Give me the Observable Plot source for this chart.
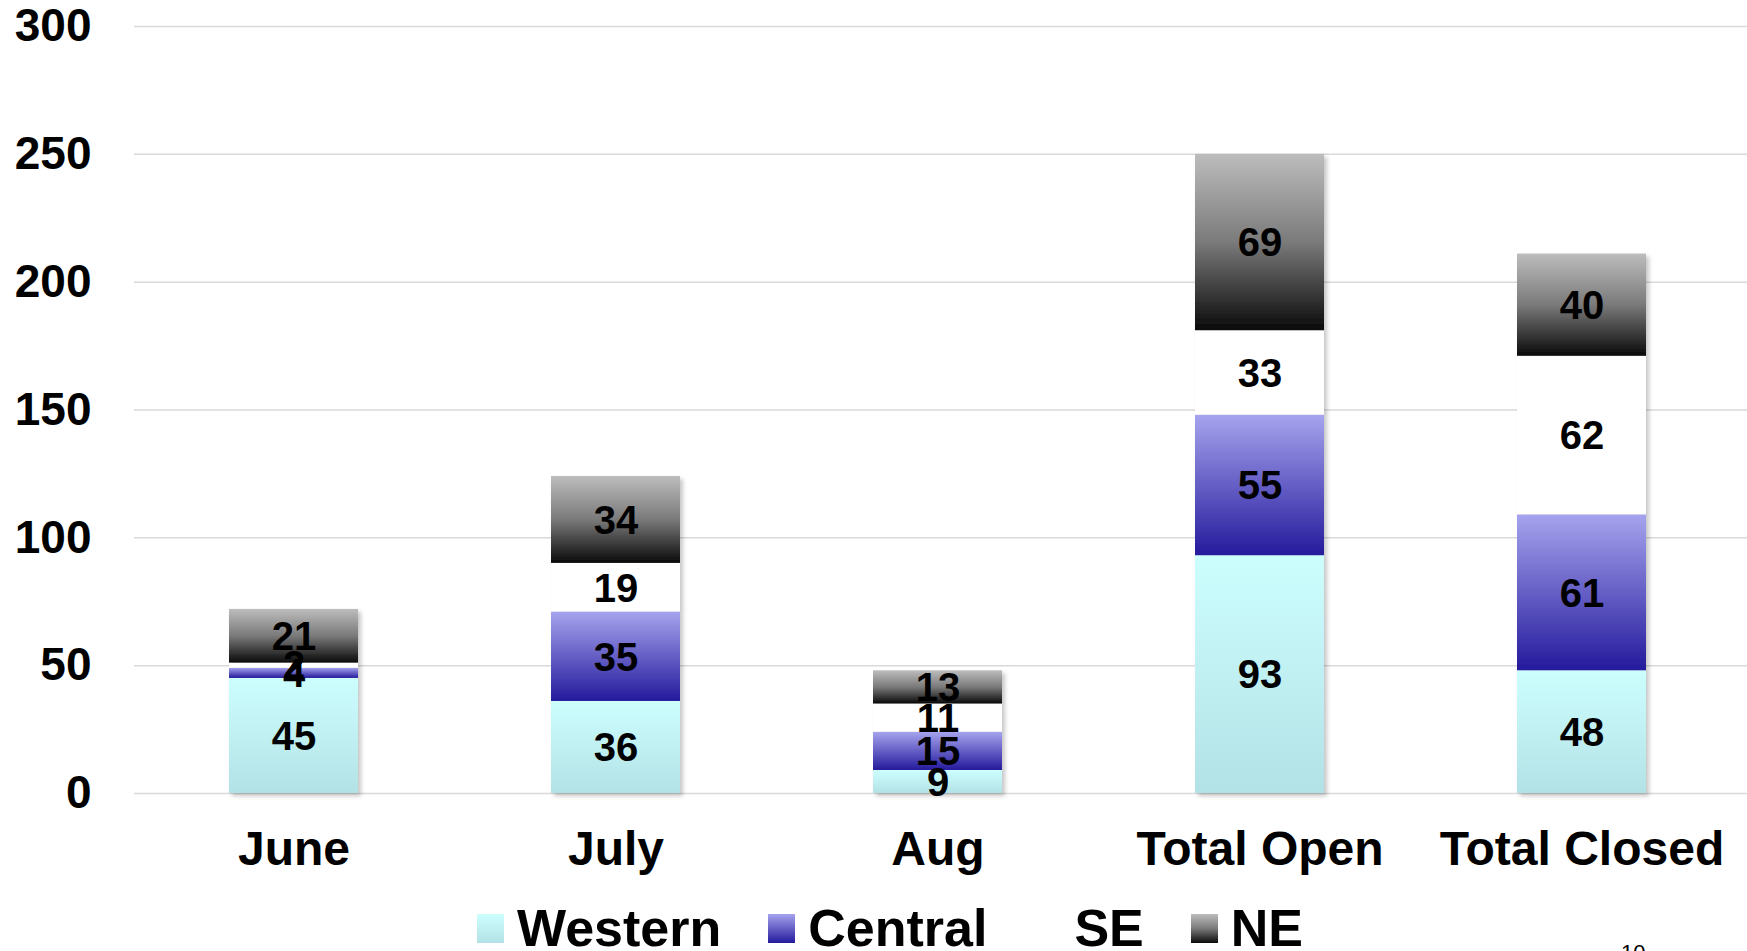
<!DOCTYPE html>
<html>
<head>
<meta charset="utf-8">
<script src="https://cdn.jsdelivr.net/npm/d3@7"></script>
<script src="https://cdn.jsdelivr.net/npm/@observablehq/plot@0.6"></script>
<style>
  html, body { margin: 0; padding: 0; background: #fff; overflow: hidden; }
  body { font-family: "Liberation Sans", Arial, sans-serif; position: relative; width: 1747px; height: 951px; }
  #chart svg { display: block; }
  #legend {
    position: absolute; top: 898px; left: 0; height: 60px;
    display: flex; align-items: center; padding-left: 477px;
    font-size: 52px; font-weight: bold; line-height: 60px; color: #000; white-space: nowrap;
  }
  .item { display: flex; align-items: center; margin-right: 47px; }
  .sw { width: 27px; height: 29px; margin-right: 13px; }
  #slide { position: absolute; left: 1621px; top: 942px; font-size: 22px; line-height: 22px; color: #000; }
</style>
</head>
<body>
<div id="chart"></div>
<div id="legend"></div>
<div id="slide">10</div>
<script>
const categories = ["June", "July", "Aug", "Total Open", "Total Closed"];
const seriesNames = ["Western", "Central", "SE", "NE"];
const western = [45, 36, 9, 93, 48];
const central = [4, 35, 15, 55, 61];
const se = [2, 19, 11, 33, 62];
const ne = [21, 34, 13, 69, 40];
const yTicks = [0, 50, 100, 150, 200, 250, 300];

const seriesValues = [western, central, se, ne];
const gradients = {
  Western: [["0%", "#cdfefe"], ["100%", "#b3e2e6"]],
  Central: [["0%", "#a6a4ee"], ["100%", "#241a9c"]],
  SE: [["0%", "#ffffff"], ["100%", "#ffffff"]],
  NE: [["0%", "#bdbdbd"], ["50%", "#7a7a7a"], ["100%", "#0a0a0a"]]
};
const gid = s => "grad-" + s;

// build stacked rows
const rows = [];
categories.forEach((c, i) => {
  let base = 0;
  seriesNames.forEach((s, j) => {
    const v = seriesValues[j][i];
    rows.push({category: c, series: s, value: v, y1: base, y2: base + v});
    base += v;
  });
});

const plot = Plot.plot({
  width: 1747,
  height: 893,
  marginTop: 26,
  marginBottom: 100,
  marginLeft: 134,
  marginRight: 0,
  style: {fontFamily: "'Liberation Sans', Arial, sans-serif", background: "white", color: "black"},
  x: {domain: categories, paddingInner: 0.6, paddingOuter: 0.3, label: null},
  y: {domain: [0, 300], label: null},
  color: {domain: seriesNames, range: seriesNames.map(s => `url(#${gid(s)})`)},
  marks: [
    Plot.gridY(yTicks, {stroke: "#d9d9d9", strokeOpacity: 1, strokeWidth: 1.5}),
    Plot.axisY({ticks: yTicks, tickSize: 0, tickPadding: 43, fontSize: 46, fontWeight: "bold", label: null}),
    Plot.axisX({tickSize: 0, tickPadding: 37, fontSize: 48, fontWeight: "bold", label: null, dx: -3}),
    Plot.barY(rows, {x: "category", y1: "y1", y2: "y2", fill: "series", dx: -3}),
    Plot.text(rows, {x: "category", y: d => (d.y1 + d.y2) / 2, text: d => String(d.value), fontSize: 40, fontWeight: "bold", fill: "black", dx: -3, dy: 1})
  ]
});

const svg = d3.select(plot);
const defs = svg.insert("defs", ":first-child");
seriesNames.forEach(s => {
  const g = defs.append("linearGradient").attr("id", gid(s))
    .attr("x1", 0).attr("y1", 0).attr("x2", 0).attr("y2", 1);
  gradients[s].forEach(([o, c]) => g.append("stop").attr("offset", o).attr("stop-color", c));
});
const f = defs.append("filter").attr("id", "shadow").attr("x", "-10%").attr("y", "-10%").attr("width", "130%").attr("height", "130%");
f.append("feDropShadow").attr("dx", 3).attr("dy", 3).attr("stdDeviation", 2)
  .attr("flood-color", "#000").attr("flood-opacity", 0.22);
svg.select('g[aria-label="bar"]').attr("filter", "url(#shadow)");

document.getElementById("chart").appendChild(plot);

// legend
const legend = d3.select("#legend");
seriesNames.forEach(s => {
  const st = gradients[s].map(([o, c]) => `${c} ${o}`).join(", ");
  const item = legend.append("div").attr("class", "item");
  item.append("div").attr("class", "sw").style("background", `linear-gradient(to bottom, ${st})`);
  item.append("span").text(s);
});
</script>
</body>
</html>
